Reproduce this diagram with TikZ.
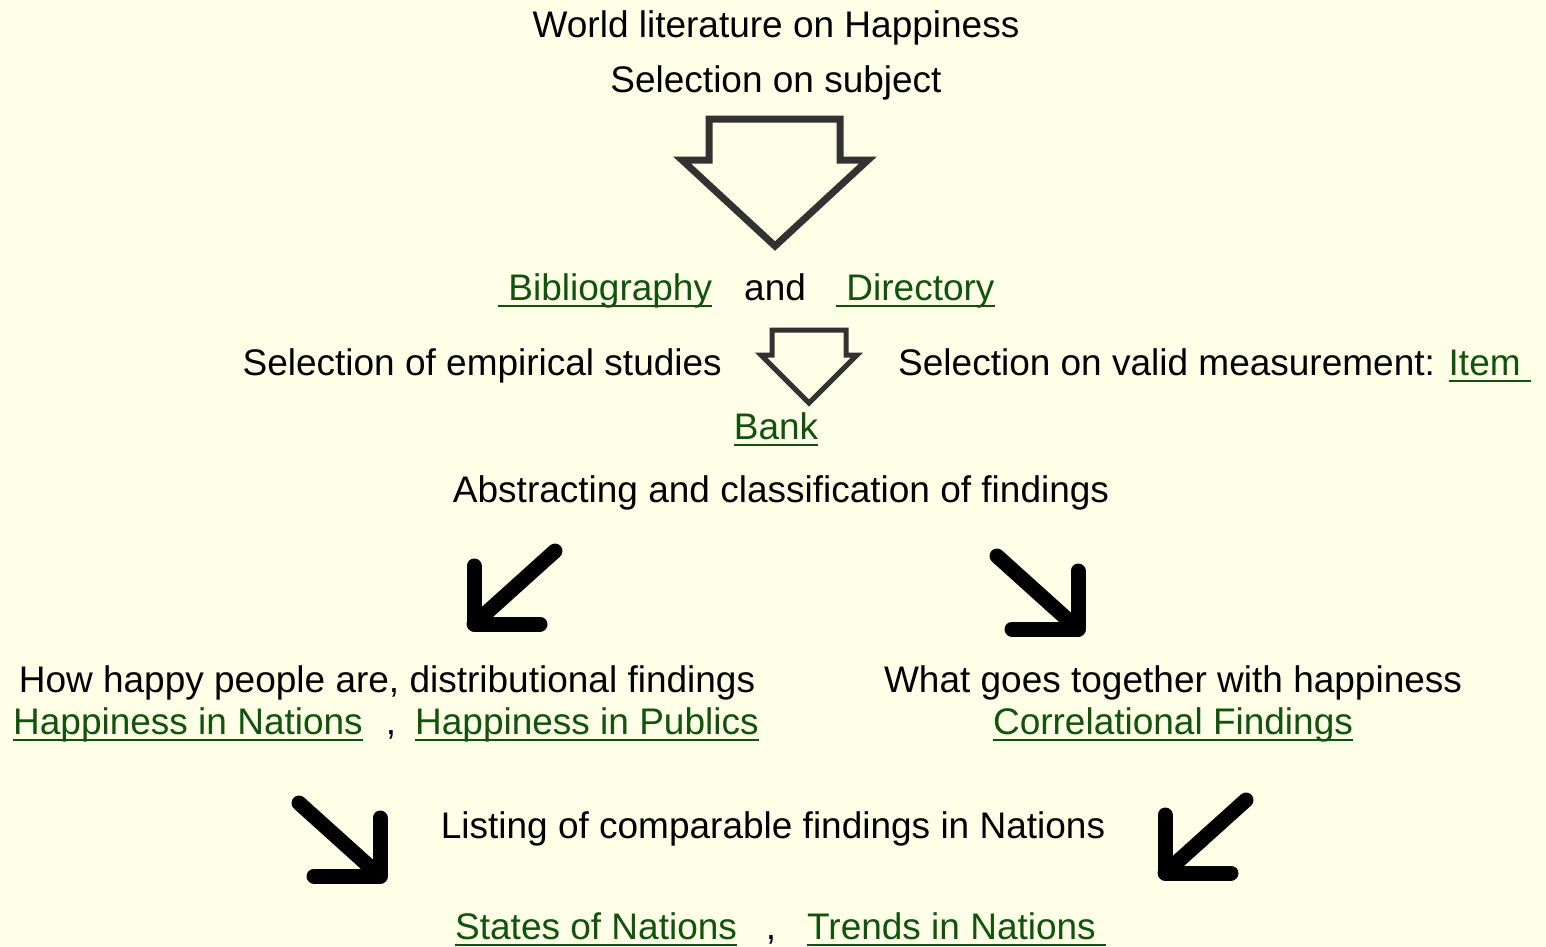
\documentclass[tikz,border=0pt]{standalone}
\usepackage{fontspec}
\setmainfont{Liberation Sans}

\definecolor{bgyellow}{RGB}{255,255,232}
\definecolor{linkgreen}{RGB}{16,84,12}
\definecolor{arrowgray}{RGB}{50,50,50}

\newsavebox\linkbox
\newcommand\lnk[1]{\sbox\linkbox{\color{linkgreen}#1}{\color{linkgreen}\rlap{\rule[-0.2em]{\wd\linkbox}{0.07em}}\usebox\linkbox}}

\begin{document}
\begin{tikzpicture}[x=1pt, y=-1pt,
		txt/.style={font=\fontsize{37}{42}\selectfont, inner sep=0pt, anchor=base},
		hollow/.style={draw=arrowgray, fill=bgyellow, line join=miter},
		bentarrow/.pic={
			\draw[line width=15pt, line cap=round, line join=round] (41,-37) -- (-40,36);
			\draw[line width=15pt, line cap=round, line join=round] (-40,-22) -- (-40,36) -- (26,36);
		}]
		\useasboundingbox (0,0) rectangle (1546,946);
		\fill[bgyellow] (0,0) rectangle (1546,946);
		
		\node[txt] (world) at (776,37) {World literature on Happiness};
		\node[txt] (subject) at (776,92) {Selection on subject};
		\draw[hollow, line width=7pt] (709,119) -- (840,119) -- (840,160) -- (868,160) -- (775,246) -- (682,160) -- (709,160) -- cycle;
		
		\node[txt, anchor=base west] (biblio) at (498,300) {\lnk{\ Bibliography}};
		\node[txt, anchor=base west] (and) at (744,300) {and};
		\node[txt, anchor=base west] (direct) at (836,300) {\lnk{\ Directory}};
		
		\node[txt, anchor=base east] (empirical) at (722,375) {Selection of empirical studies};
		\draw[hollow, line width=5pt] (772,330) -- (846,330) -- (846,355) -- (857,355) -- (809,403) -- (761,355) -- (772,355) -- cycle;
		\node[txt, anchor=base west] (valid) at (898,375) {Selection on valid measurement: \lnk{Item\ }};
		\node[txt] (bank) at (776,439) {\lnk{Bank}};
		
		\node[txt] (abstract) at (781,502) {Abstracting and classification of findings};
		
		\foreach \x/\y/\s in {514/588/1, 1038/593/-1, 340/840/-1, 1205/837/1}
			\pic[xscale=\s] at (\x,\y) {bentarrow};
		
		\node[txt] (howhappy) at (387,692) {How happy people are, distributional findings};
		\node[txt, anchor=base west] (hnations) at (13,734) {\lnk{Happiness in Nations}};
		\node[txt] (hcomma) at (391,734) {,};
		\node[txt, anchor=base west] (hpublics) at (415,734) {\lnk{Happiness in Publics}};
		
		\node[txt] (whatgoes) at (1173,692) {What goes together with happiness};
		\node[txt] (correl) at (1173,734) {\lnk{Correlational Findings}};
		
		\node[txt] (listing) at (773,838) {Listing of comparable findings in Nations};
		
		\node[txt, anchor=base west] (states) at (455,939) {\lnk{States of Nations}};
		\node[txt] (scomma) at (771,939) {,};
		\node[txt, anchor=base west] (trends) at (807,939) {\lnk{Trends in Nations\ }};
	\end{tikzpicture}
\end{document}
